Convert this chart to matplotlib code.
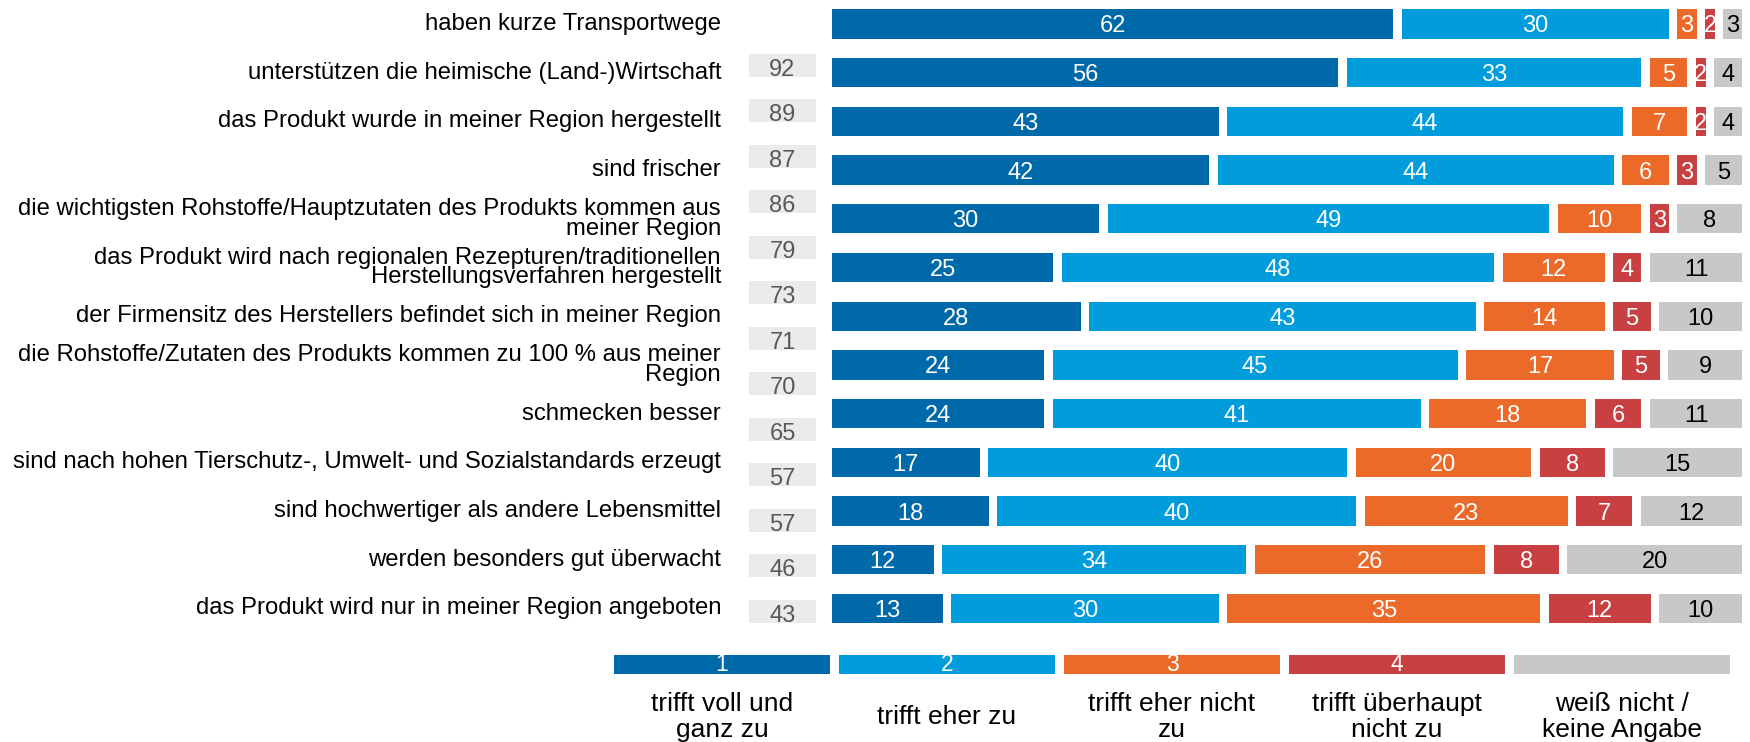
import matplotlib
matplotlib.use("Agg")
import matplotlib.pyplot as plt
import matplotlib.transforms as mtransforms
import numpy as np

plt.rcParams['font.family'] = ['Liberation Sans', 'DejaVu Sans']

# ---------------- data ----------------
categories = [
    "haben kurze Transportwege",
    "unterstützen die heimische (Land-)Wirtschaft",
    "das Produkt wurde in meiner Region hergestellt",
    "sind frischer",
    "die wichtigsten Rohstoffe/Hauptzutaten des Produkts kommen aus\nmeiner Region",
    "das Produkt wird nach regionalen Rezepturen/traditionellen\nHerstellungsverfahren hergestellt",
    "der Firmensitz des Herstellers befindet sich in meiner Region",
    "die Rohstoffe/Zutaten des Produkts kommen zu 100 % aus meiner\nRegion",
    "schmecken besser",
    "sind nach hohen Tierschutz-, Umwelt- und Sozialstandards erzeugt",
    "sind hochwertiger als andere Lebensmittel",
    "werden besonders gut überwacht",
    "das Produkt wird nur in meiner Region angeboten",
]
s1_voll = [62, 56, 43, 42, 30, 25, 28, 24, 24, 17, 18, 12, 13]
s2_eher = [30, 33, 44, 44, 49, 48, 43, 45, 41, 40, 40, 34, 30]
s3_eher_nicht = [3, 5, 7, 6, 10, 12, 14, 17, 18, 20, 23, 26, 35]
s4_ueberhaupt_nicht = [2, 2, 2, 3, 3, 4, 5, 5, 6, 8, 7, 8, 12]
s5_weiss_nicht = [3, 4, 4, 5, 8, 11, 10, 9, 11, 15, 12, 20, 10]
top2_sum = [92, 89, 87, 86, 79, 73, 71, 70, 65, 57, 57, 46, 43]

legend_numbers = ["1", "2", "3", "4", ""]
legend_labels = [
    "trifft voll und\nganz zu",
    "trifft eher zu",
    "trifft eher nicht\nzu",
    "trifft überhaupt\nnicht zu",
    "weiß nicht /\nkeine Angabe",
]

# ---------------- style ----------------
colors = ["#0069AA", "#009CDC", "#EB6A2A", "#C84042", "#C8C8C8"]
text_colors = ["white", "white", "white", "white", "black"]
W, H = 1750, 742
FS = 17
FS_LAB = 17.2

fig = plt.figure(figsize=(W / 100, H / 100), dpi=100)

# main axes: x 0..100 spans pixel 832..1751, rows at pixel 24 + 48.7*i
px_per_row = 48.7
row0_px = 24.0
ax = fig.add_axes([832 / W, 0, 919 / W, 1])
ax.set_xlim(0, 100)
ax.set_ylim((H - row0_px) / px_per_row, -row0_px / px_per_row)
ax.axis("off")

series = [s1_voll, s2_eher, s3_eher_nicht, s4_ueberhaupt_nicht, s5_weiss_nicht]
gap = 0.93
bar_h = 0.60
n = len(categories)
y = np.arange(n)
left = np.zeros(n)
for vals, col, tcol in zip(series, colors, text_colors):
    vals = np.asarray(vals, dtype=float)
    ax.barh(y, vals - gap, left=left, height=bar_h, color=col, edgecolor="none")
    for yi, (l, v) in enumerate(zip(left, vals)):
        ax.annotate(f"{int(v)}", xy=(l + (v - gap) / 2, yi), xytext=(0, -0.36 * FS),
                    textcoords="offset points", ha="center", va="baseline",
                    fontsize=FS, color=tcol, annotation_clip=False)
    left += vals

# category labels (right aligned)
lab_tr = mtransforms.blended_transform_factory(fig.transFigure, ax.transData)
for yi, cat in enumerate(categories):
    ax.text(721 / W, yi, cat, transform=lab_tr, ha="right", va="center",
            fontsize=FS_LAB, color="black", linespacing=0.85, clip_on=False)

# grey boxes with top-2 sums (slightly drifting layout as in the original)
box_start = (65.3 - row0_px) / px_per_row
box_step = 45.5 / px_per_row
box_h = 23 / px_per_row
box_x0, box_w = 749 / W, 67 / W
for j, val in enumerate(top2_sum):
    yc = box_start + j * box_step
    ax.add_patch(plt.Rectangle((box_x0, yc - box_h / 2), box_w, box_h,
                               transform=lab_tr, facecolor="#EBEBEB",
                               edgecolor="none", clip_on=False))
    ax.annotate(f"{val}", xy=(box_x0 + box_w / 2, yc), xycoords=lab_tr,
                xytext=(0, -0.36 * FS - 1.5), textcoords="offset points",
                ha="center", va="baseline", fontsize=FS, color="#595959",
                annotation_clip=False)

# legend
lax = fig.add_axes([614 / W, 0, 1125 / W, 1])
lax.set_xlim(0, 5)
lax.set_ylim(H, 0)
lax.axis("off")
lx = np.arange(5)
lax.bar(lx, [19] * 5, bottom=655, width=216 / 225, align="edge",
        color=colors, edgecolor="none")
for i in range(5):
    xc = i + (216 / 225) / 2
    lax.text(xc, 664.5 + 6.5, legend_numbers[i], ha="center", va="baseline",
             fontsize=16.5, color="white")
    lax.text(xc, 717, legend_labels[i], ha="center", va="center",
             fontsize=19, color="black", linespacing=1.1)

fig.savefig("out.png", dpi=100)
